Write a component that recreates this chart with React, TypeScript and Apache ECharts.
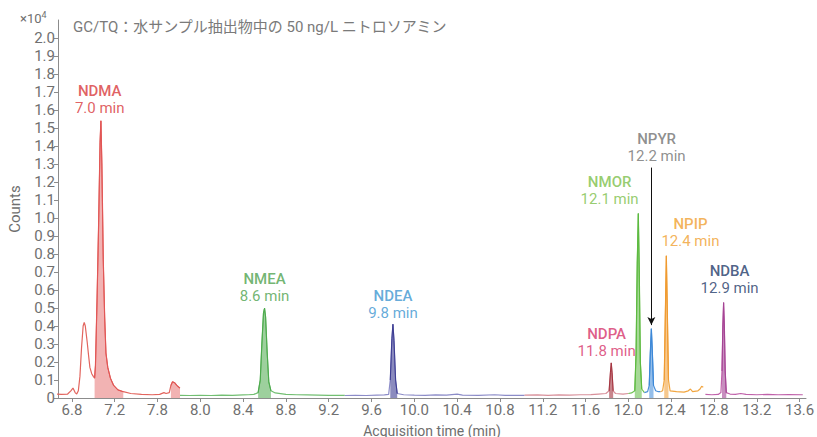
import React, { useEffect, useRef } from "react";
import * as echarts from "echarts";

// ---------- data ----------
const xTickValues = [6.8, 7.2, 7.6, 8.0, 8.4, 8.8, 9.2, 9.6, 10.0, 10.4, 10.8, 11.2, 11.6, 12.0, 12.4, 12.8, 13.2, 13.6];
const xTickLabels = ["6.8", "7.2", "7.8", "8.0", "8.4", "8.8", "9.2", "9.6", "10.0", "10.4", "10.8", "11.2", "11.6", "12.0", "12.4", "12.8", "13.2", "13.6"];
const yTickValues = [0, 0.1, 0.2, 0.3, 0.4, 0.5, 0.6, 0.7, 0.8, 0.9, 1.0, 1.1, 1.2, 1.3, 1.4, 1.5, 1.6, 1.7, 1.8, 1.9, 2.0];
const yTickLabels = ["0", "0.1", "0.2", "0.3", "0.4", "0.5", "0.6", "0.7", "0.8", "0.9", "1.0", "1.1", "1.2", "1.3", "1.4", "1.5", "1.6", "1.7", "1.8", "1.9", "2.0"];

const compounds = ["NDMA", "NMEA", "NDEA", "NDPA", "NMOR", "NPYR", "NPIP", "NDBA"];
const retentionLabels = ["7.0 min", "8.6 min", "9.8 min", "11.8 min", "12.1 min", "12.2 min", "12.4 min", "12.9 min"];

// traces: [time (min), counts ×10^4]
const traceNDMA = [
  [6.66, 0.022], [6.7, 0.02], [6.76, 0.022], [6.79, 0.04], [6.81, 0.055], [6.83, 0.03], [6.845, 0.022],
  [6.86, 0.04], [6.875, 0.12], [6.89, 0.28], [6.905, 0.4], [6.915, 0.42], [6.925, 0.4], [6.943, 0.31],
  [6.955, 0.24], [6.968, 0.17], [6.985, 0.135], [7.0, 0.12], [7.012, 0.11], [7.02, 0.18], [7.035, 0.55],
  [7.049, 0.95], [7.063, 1.42], [7.071, 1.54], [7.08, 1.3], [7.093, 0.77], [7.106, 0.45], [7.118, 0.25],
  [7.135, 0.17], [7.16, 0.11], [7.19, 0.07], [7.23, 0.045], [7.28, 0.035], [7.35, 0.025], [7.45, 0.02],
  [7.55, 0.018], [7.62, 0.02], [7.66, 0.03], [7.68, 0.025], [7.71, 0.03], [7.725, 0.07], [7.74, 0.09],
  [7.76, 0.085], [7.78, 0.07], [7.8, 0.06], [7.81, 0.055]
];
const traceNMEA = [
  [7.81, 0.015], [7.9, 0.014], [8.0, 0.015], [8.1, 0.014], [8.2, 0.016], [8.3, 0.015], [8.4, 0.017],
  [8.45, 0.018], [8.5, 0.02], [8.54, 0.03], [8.56, 0.1], [8.575, 0.3], [8.59, 0.47], [8.6, 0.5],
  [8.61, 0.45], [8.625, 0.25], [8.64, 0.09], [8.66, 0.04], [8.7, 0.028], [8.75, 0.024], [8.8, 0.02],
  [8.9, 0.018], [9.0, 0.017], [9.1, 0.016], [9.2, 0.015], [9.35, 0.015]
];
const traceNDEA = [
  [9.35, 0.014], [9.45, 0.015], [9.55, 0.014], [9.65, 0.016], [9.72, 0.017], [9.76, 0.02], [9.775, 0.1],
  [9.79, 0.33], [9.8, 0.41], [9.81, 0.32], [9.825, 0.1], [9.84, 0.025], [9.9, 0.018], [10.0, 0.016],
  [10.1, 0.015], [10.2, 0.017], [10.3, 0.016], [10.4, 0.022], [10.45, 0.016], [10.6, 0.015], [10.75, 0.018],
  [10.85, 0.015], [11.03, 0.015]
];
const traceNDPA = [
  [11.03, 0.016], [11.15, 0.017], [11.25, 0.015], [11.35, 0.017], [11.45, 0.016], [11.55, 0.018],
  [11.65, 0.019], [11.72, 0.022], [11.79, 0.025], [11.82, 0.04], [11.832, 0.14], [11.84, 0.195],
  [11.848, 0.14], [11.858, 0.04], [11.88, 0.025], [11.95, 0.022], [12.0, 0.025]
];
const traceNMOR = [
  [12.0, 0.025], [12.03, 0.028], [12.06, 0.04], [12.072, 0.25], [12.083, 0.75], [12.093, 1.025],
  [12.102, 0.7], [12.112, 0.2], [12.125, 0.05], [12.15, 0.03]
];
const traceNPYR = [
  [12.15, 0.03], [12.18, 0.035], [12.195, 0.07], [12.205, 0.25], [12.215, 0.385], [12.225, 0.24],
  [12.235, 0.07], [12.255, 0.04], [12.28, 0.035], [12.3, 0.035]
];
const traceNPIP = [
  [12.3, 0.035], [12.32, 0.04], [12.335, 0.1], [12.345, 0.45], [12.355, 0.79], [12.365, 0.45],
  [12.375, 0.1], [12.39, 0.04], [12.45, 0.035], [12.52, 0.033], [12.56, 0.04], [12.58, 0.05],
  [12.6, 0.035], [12.65, 0.04], [12.67, 0.05], [12.685, 0.065], [12.7, 0.06]
];
const traceNDBA = [
  [12.72, 0.02], [12.78, 0.018], [12.84, 0.02], [12.865, 0.03], [12.875, 0.15], [12.883, 0.4],
  [12.89, 0.53], [12.897, 0.4], [12.905, 0.15], [12.915, 0.03], [12.95, 0.022], [13.0, 0.02],
  [13.05, 0.025], [13.1, 0.02], [13.2, 0.018], [13.3, 0.02], [13.4, 0.018], [13.5, 0.019], [13.63, 0.018]
];
const traces = [traceNDMA, traceNMEA, traceNDEA, traceNDPA, traceNMOR, traceNPYR, traceNPIP, traceNDBA];

// integrated (shaded) windows per compound, [start, end] in min
const windows = [
  [[7.012, 7.3], [7.715, 7.81]],
  [[8.54, 8.66]],
  [[9.765, 9.84]],
  [[11.82, 11.86]],
  [[12.06, 12.125]],
  [[12.19, 12.245]],
  [[12.33, 12.38]],
  [[12.87, 12.915]]
];

// ---------- styles ----------
const lineColors = ["#e2655e", "#72bf72", "#8c8cc8", "#d8909a", "#70c254", "#4a8fd8", "#f2a640", "#c062aa"];
const fillColors = ["#e25656", "#4caa4c", "#3d3d92", "#a3343f", "#5cba40", "#3c88d8", "#f09a30", "#a44494"];
const fillOpacity = [0.45, 0.55, 0.6, 0.6, 0.55, 0.55, 0.55, 0.6];
const labelColors = ["#d8383a", "#4ea24e", "#3d95d0", "#d6346a", "#7cc04a", "#727272", "#f0a030", "#1f3a68"];
// label anchor (centre of two-line label) in data coordinates
const labelAnchors = [
  [7.06, 1.66], [8.6, 0.613], [9.8, 0.518], [11.797, 0.307],
  [11.825, 1.154], [12.264, 1.394], [12.58, 0.92], [12.946, 0.658]
];
const arrowFrom = [12.215, 1.28];
const arrowTo = [12.215, 0.405];

const FONT = "Roboto, 'Noto Sans CJK JP', sans-serif";

export default function App() {
  const ref = useRef<HTMLDivElement>(null);

  useEffect(() => {
    if (!ref.current) return;
    const chart = echarts.init(ref.current, null, { renderer: "svg" });

    const series: any[] = [];
    traces.forEach((tr, i) => {
      series.push({
        type: "line",
        data: tr,
        showSymbol: false,
        symbol: "none",
        lineStyle: { color: lineColors[i], width: 1.2 },
        z: 3,
        silent: true,
        ...(i === 5
          ? {
              markLine: {
                silent: true,
                symbol: ["none", "arrow"],
                symbolSize: [6, 8],
                label: { show: false },
                lineStyle: { color: "#111", width: 1, type: "solid" },
                data: [[{ coord: arrowFrom }, { coord: arrowTo }]]
              }
            }
          : {})
      });
      windows[i].forEach((w) => {
        const seg = tr.filter((p) => p[0] >= w[0] - 1e-9 && p[0] <= w[1] + 1e-9);
        series.push({
          type: "line",
          data: seg,
          showSymbol: false,
          symbol: "none",
          silent: true,
          z: 4,
          lineStyle: { color: fillColors[i], width: 1 },
          areaStyle: { color: fillColors[i], opacity: fillOpacity[i] }
        });
      });
    });

    series.push({
      type: "scatter",
      silent: true,
      symbolSize: 0.1,
      itemStyle: { color: "rgba(0,0,0,0)" },
      z: 5,
      data: compounds.map((c, i) => ({
        value: labelAnchors[i],
        name: c,
        label: {
          show: true,
          position: "inside",
          color: labelColors[i],
          formatter: `{a|${c}}\n{b|${retentionLabels[i]}}`,
          rich: {
            a: { fontFamily: FONT, fontSize: 15, fontWeight: 500, lineHeight: 17, color: labelColors[i] },
            b: { fontFamily: FONT, fontSize: 15, lineHeight: 17, color: labelColors[i] }
          }
        }
      }))
    });

    chart.setOption({
      animation: false,
      backgroundColor: "#ffffff",
      textStyle: { fontFamily: FONT },
      grid: { left: 58, right: 11, top: 20, bottom: 39, containLabel: false, outerBoundsMode: "none" },
      xAxis: {
        type: "value",
        min: 6.67,
        max: 13.66,
        name: "Acquisition time (min)",
        nameLocation: "middle",
        nameGap: 20,
        nameTextStyle: { fontFamily: FONT, fontSize: 14, lineHeight: 16, color: "#6e6e6e" },
        axisLine: { show: true, lineStyle: { color: "#8c8c8c" } },
        axisTick: { show: true, length: 4, customValues: xTickValues, lineStyle: { color: "#8c8c8c" } },
        axisLabel: {
          customValues: xTickValues,
          fontFamily: FONT,
          fontSize: 15,
          lineHeight: 16,
          color: "#707070",
          margin: 4,
          formatter: (v: number) => {
            const idx = xTickValues.findIndex((t) => Math.abs(t - v) < 1e-6);
            return idx >= 0 ? xTickLabels[idx] : "";
          }
        },
        splitLine: { show: false }
      },
      yAxis: {
        type: "value",
        min: 0,
        max: 2.1,
        name: "Counts",
        nameLocation: "middle",
        nameGap: 36,
        nameTextStyle: { fontFamily: FONT, fontSize: 15, color: "#6e6e6e" },
        axisLine: { show: true, lineStyle: { color: "#8c8c8c" } },
        axisTick: { show: true, length: 4, customValues: yTickValues, lineStyle: { color: "#8c8c8c" } },
        axisLabel: {
          customValues: yTickValues,
          fontFamily: FONT,
          fontSize: 15,
          color: "#707070",
          margin: 3,
          formatter: (v: number) => {
            const idx = yTickValues.findIndex((t) => Math.abs(t - v) < 1e-6);
            return idx >= 0 ? yTickLabels[idx] : "";
          }
        },
        splitLine: { show: false }
      },
      graphic: [
        {
          type: "text",
          left: 20,
          top: 10,
          style: {
            text: "{a|×10}{b|4}",
            rich: {
              a: { fontFamily: FONT, fontSize: 13, fill: "#707070", verticalAlign: "bottom" },
              b: { fontFamily: FONT, fontSize: 9, fill: "#707070", verticalAlign: "top", padding: [0, 0, 6, 0] }
            }
          }
        },
        {
          type: "text",
          left: 73,
          top: 19,
          style: {
            text: "GC/TQ：水サンプル抽出物中の 50 ng/L ニトロソアミン",
            fontFamily: FONT,
            fontSize: 15,
            fill: "#7a7a7a"
          }
        }
      ],
      series
    });

    return () => chart.dispose();
  }, []);

  return <div ref={ref} style={{ position: "fixed", left: 0, top: 0, width: 817, height: 437 }} />;
}
